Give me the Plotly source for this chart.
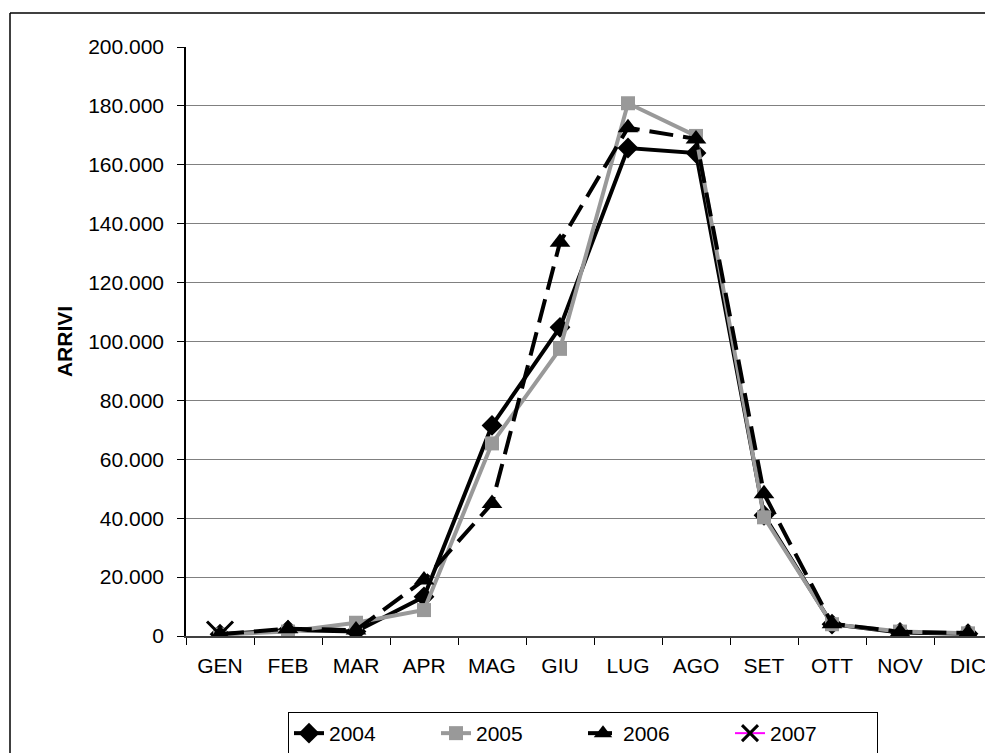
import plotly.graph_objects as go

# Monthly arrivals
months = ['GEN', 'FEB', 'MAR', 'APR', 'MAG', 'GIU', 'LUG', 'AGO', 'SET', 'OTT', 'NOV', 'DIC']
arrivi_2004 = [600, 2000, 1500, 13300, 71500, 104800, 165700, 164000, 41000, 4000, 1200, 800]
arrivi_2005 = [500, 1500, 4500, 8800, 65400, 97500, 180900, 169800, 40300, 4000, 1500, 900]
arrivi_2006 = [600, 2500, 2000, 19000, 45000, 133700, 172600, 168800, 48300, 4200, 1400, 1000]
arrivi_2007 = [500]

FONT = 'Liberation Sans, Arial, sans-serif'

# the page body adds an 8px offset, so work in screen pixels and shift back
OFF = 8
W, H = 993, 753
L, R, T, B = 186 - OFF, 993, 47 - OFF, 636 - OFF   # figure pixels
CAT_PX = 68                                         # width of one month slot


def px_x(x):
    # screen x -> paper x
    return (x - OFF - L) / (R - L)


def px_y(y):
    # screen y -> paper y
    return (B - (y - OFF)) / (B - T)


fig = go.Figure()

fig.add_trace(go.Scatter(
    x=months, y=arrivi_2004, name='2004', mode='lines+markers',
    line=dict(color='black', width=4),
    marker=dict(symbol='diamond', size=16, color='black')))

fig.add_trace(go.Scatter(
    x=months, y=arrivi_2005, name='2005', mode='lines+markers',
    line=dict(color='#999999', width=4),
    marker=dict(symbol='square', size=14, color='#999999')))

fig.add_trace(go.Scatter(
    x=months, y=arrivi_2006, name='2006', mode='lines+markers',
    line=dict(color='black', width=4, dash='24px,10px'),
    marker=dict(symbol='triangle-up', size=18, color='black')))

fig.add_trace(go.Scatter(
    x=months[:len(arrivi_2007)], y=arrivi_2007, name='2007', mode='lines+markers',
    line=dict(color='#ff00ff', width=2),
    marker=dict(symbol='x-thin-open', size=26, color='black',
                line=dict(color='black', width=3))))

# outer chart frame (only left and top edges are visible)
fig.add_shape(type='line', xref='paper', yref='paper',
              x0=px_x(10), x1=px_x(1010), y0=px_y(13), y1=px_y(13),
              line=dict(color='black', width=1.5))
fig.add_shape(type='line', xref='paper', yref='paper',
              x0=px_x(10), x1=px_x(10), y0=px_y(13), y1=px_y(770),
              line=dict(color='black', width=1.5))

fig.update_layout(
    width=W, height=H,
    margin=dict(l=L, r=W - R, t=T, b=H - B, autoexpand=False),
    paper_bgcolor='white', plot_bgcolor='white',
    font=dict(family=FONT, size=21, color='black'),
    separators=',.',
    showlegend=True,
    legend=dict(orientation='h', x=px_x(288), y=px_y(712),
                xanchor='left', yanchor='top',
                bordercolor='black', borderwidth=1,
                entrywidth=102, font=dict(size=21),
                traceorder='normal'),
)

fig.update_xaxes(
    type='category', range=[-0.5, (R - L) / CAT_PX - 0.5],
    showgrid=False, showline=True, linecolor='#404040', linewidth=1.5,
    ticks='outside', tickson='boundaries', ticklen=7, tickcolor='black',
    ticklabelstandoff=10, tickfont=dict(size=21), automargin=False)

fig.update_yaxes(
    range=[0, 200000], dtick=20000, tickformat=',d',
    showgrid=True, gridcolor='#808080', gridwidth=1,
    showline=True, linecolor='black', linewidth=1.5,
    ticks='outside', ticklen=7, tickcolor='black', ticklabelstandoff=9,
    zeroline=False, tickfont=dict(size=21), automargin=False,
    title=dict(text='<b>ARRIVI</b>', font=dict(size=21), standoff=10))

fig.write_html("out.html")
